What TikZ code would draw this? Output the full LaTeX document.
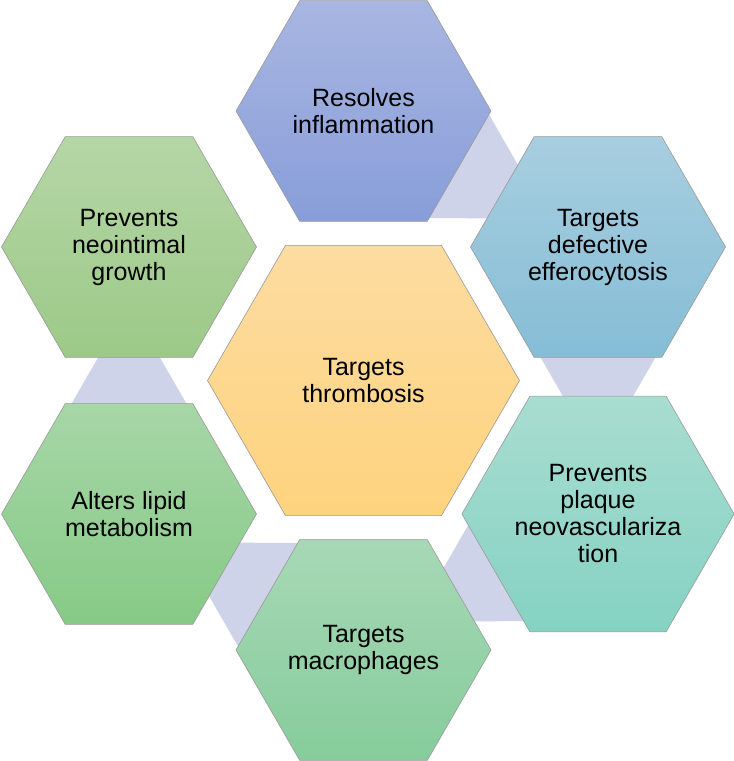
\documentclass[tikz,border=0pt]{standalone}
\usepackage{fontspec}
\setmainfont{Liberation Sans}
\usetikzlibrary{shapes.geometric, backgrounds, calc}

\definecolor{coreTop}{RGB}{253,220,161}
\definecolor{coreBottom}{RGB}{254,211,126}
\definecolor{inflamTop}{RGB}{168,182,225}
\definecolor{inflamBottom}{RGB}{136,157,217}
\definecolor{effeTop}{RGB}{168,206,223}
\definecolor{effeBottom}{RGB}{133,189,214}
\definecolor{neovTop}{RGB}{168,221,208}
\definecolor{neovBottom}{RGB}{133,210,195}
\definecolor{macroTop}{RGB}{167,216,182}
\definecolor{macroBottom}{RGB}{134,204,155}
\definecolor{lipidTop}{RGB}{167,214,167}
\definecolor{lipidBottom}{RGB}{134,202,134}
\definecolor{intimaTop}{RGB}{181,214,166}
\definecolor{intimaBottom}{RGB}{156,201,136}
\definecolor{linkLavender}{RGB}{206,211,234}

\tikzset{
    hex_cell/.style={
        regular polygon,
        regular polygon sides=6,
        draw=black!40,
        line width=0.6pt,
        minimum size=255pt,
        inner sep=0pt,
        align=center,
        font=\fontsize{25}{27}\selectfont
    },
    hex_core/.style={
        hex_cell,
        minimum size=312pt
    },
    hex_link/.style={
        fill=linkLavender,
        draw=none
    }
}
\newcommand{\hexlink}[2]{
    \path ($(#2)!57pt!(#1)$) coordinate (#2tip);
    \fill[hex_link] (#2tip) -- ($(#2tip)!200pt!30:(#1)$) -- ($(#2tip)!200pt!-30:(#1)$) -- cycle;
}

\begin{document}
\begin{tikzpicture}[x=1pt, y=-1pt]
\useasboundingbox (0,0) rectangle (734,761);

% Centre
\node[hex_core, top color=coreTop, bottom color=coreBottom] (thrombosis) at (363.5,380.5)
  {Targets\\thrombosis};

% Ring, clockwise from the top
\node[hex_cell, top color=inflamTop, bottom color=inflamBottom] (inflammation) at (363.5,111)
  {Resolves\\inflammation};
\node[hex_cell, top color=effeTop, bottom color=effeBottom] (efferocytosis) at (598,247)
  {Targets\\defective\\efferocytosis};
\node[hex_cell, top color=neovTop, bottom color=neovBottom] (neovascular) at (598,514)
  {Prevents\\plaque\\neovasculariza\\tion};
\node[hex_cell, top color=macroTop, bottom color=macroBottom] (macrophages) at (363.5,650)
  {Targets\\macrophages};
\node[hex_cell, top color=lipidTop, bottom color=lipidBottom] (lipid) at (129,514)
  {Alters lipid\\metabolism};
\node[hex_cell, top color=intimaTop, bottom color=intimaBottom] (neointima) at (129,247)
  {Prevents\\neointimal\\growth};

% Links behind the ring
\begin{scope}[on background layer]
\hexlink{inflammation}{efferocytosis}
\hexlink{efferocytosis}{neovascular}
\hexlink{neovascular}{macrophages}
\hexlink{macrophages}{lipid}
\hexlink{lipid}{neointima}
\end{scope}

\end{tikzpicture}
\end{document}
